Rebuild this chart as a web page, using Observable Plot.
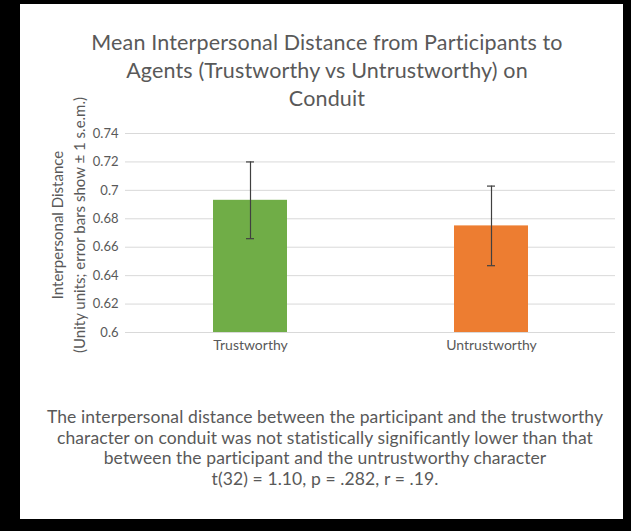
<!DOCTYPE html>
<html>
<head>
<meta charset="utf-8">
<script src="https://cdn.jsdelivr.net/npm/d3@7"></script>
<script src="https://cdn.jsdelivr.net/npm/@observablehq/plot@0.6"></script>
<style>
  html, body { margin: 0; padding: 0; }
  body { width: 631px; height: 531px; background: #000; position: relative; overflow: hidden; font-family: Lato, "Open Sans", sans-serif; }
  #panel { position: absolute; left: 20px; top: 4px; width: 603px; height: 515px; background: #fff; }
  .abs { position: absolute; color: #595959; }
  #title { left: 27px; top: 28px; width: 600px; text-align: center; font-size: 21.5px; letter-spacing: 0.15px; line-height: 28px; }
  #caption { left: 25px; top: 407px; width: 600px; text-align: center; font-size: 17.5px; letter-spacing: 0.1px; line-height: 20.5px; }
  .ylab { font-size: 15px; white-space: nowrap; line-height: 16px; transform: translate(-50%, -50%) rotate(-90deg); transform-origin: center; }
  #chart { position: absolute; left: 20px; top: 115px; }
</style>
</head>
<body>
<div id="panel"></div>
<div id="title" class="abs"></div>
<div id="ylab1" class="abs ylab"></div>
<div id="ylab2" class="abs ylab"></div>
<div id="chart"></div>
<div id="caption" class="abs"></div>
<script>
const titleLines = [
  "Mean Interpersonal Distance from Participants to",
  "Agents (Trustworthy vs Untrustworthy) on",
  "Conduit"
];
const yTitleLines = [
  "Interpersonal Distance",
  "(Unity units; error bars show \u00b1 1 s.e.m.)"
];
const captionLines = [
  "The interpersonal distance between the participant and the trustworthy",
  "character on conduit was not statistically significantly lower than that",
  "between the participant and the untrustworthy character",
  "t(32) = 1.10, p = .282, r = .19."
];
const categories = ["Trustworthy", "Untrustworthy"];
const means = [0.693, 0.675];
const errors = [0.027, 0.028];
const colors = ["#70AD47", "#ED7D31"];
const yTicks = [0.6, 0.62, 0.64, 0.66, 0.68, 0.7, 0.72, 0.74];

document.getElementById("title").innerHTML = titleLines.join("<br>");
document.getElementById("caption").innerHTML = captionLines.join("<br>");
const yl1 = document.getElementById("ylab1");
yl1.textContent = yTitleLines[0];
yl1.style.left = "57px"; yl1.style.top = "225px";
const yl2 = document.getElementById("ylab2");
yl2.textContent = yTitleLines[1];
yl2.style.left = "79px"; yl2.style.top = "225px";

const data = categories.map((c, i) => ({cat: c, mean: means[i], err: errors[i], color: colors[i]}));

const chart = Plot.plot({
  width: 603,
  height: 250,
  marginLeft: 105,
  marginRight: 8,
  marginTop: 18,
  marginBottom: 33,
  style: {fontFamily: "Lato, 'Open Sans', sans-serif", color: "#595959", background: "transparent"},
  x: {domain: categories, paddingInner: 0.693, paddingOuter: 0.363, label: null},
  y: {domain: [0.6, 0.74], label: null},
  marks: [
    Plot.ruleY(yTicks, {stroke: "#d9d9d9", strokeWidth: 1}),
    Plot.barY(data, {x: "cat", y1: 0.6, y2: "mean", fill: "color"}),
    Plot.ruleX(data, {x: "cat", y1: d => d.mean - d.err, y2: d => d.mean + d.err, stroke: "#404040", strokeWidth: 1.2}),
    Plot.tickY(data, {x: "cat", y: d => d.mean + d.err, stroke: "#404040", strokeWidth: 1.2, insetLeft: 33, insetRight: 33}),
    Plot.tickY(data, {x: "cat", y: d => d.mean - d.err, stroke: "#404040", strokeWidth: 1.2, insetLeft: 33, insetRight: 33}),
    Plot.axisY({ticks: yTicks, tickSize: 0, tickPadding: 7, tickFormat: d => String(+d.toFixed(2)), fontSize: 13, label: null}),
    Plot.axisX({tickSize: 0, tickPadding: 8, fontSize: 14, label: null})
  ]
});
document.getElementById("chart").appendChild(chart);
</script>
</body>
</html>
